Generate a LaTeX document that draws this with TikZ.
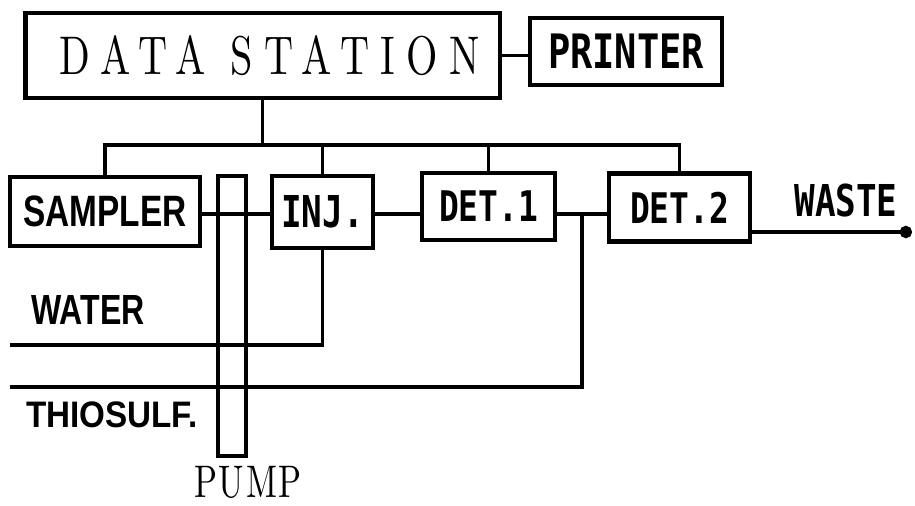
\documentclass[tikz,border=0pt]{standalone}
\usepackage{fontspec}
\usepackage{tikz}
\usetikzlibrary{arrows.meta, positioning, calc}
\newfontfamily\plotfont[FakeStretch=0.78]{DejaVu Sans Mono}
\newfontfamily\heavyfont[FakeStretch=0.76]{Liberation Sans}
\newfontfamily\thiofont[FakeStretch=0.9]{Liberation Sans}
\newfontfamily\outlinefont[Extension=.otf, UprightFont=*-regular, FakeStretch=0.74, LetterSpace=21]{lmroman10}
\newfontfamily\pumpfont[Extension=.otf, UprightFont=*-regular, FakeStretch=0.74, LetterSpace=4]{lmroman10}

\tikzset{
  box/.style={draw, line width=2.3pt, inner sep=0pt, fill=white},
  pipe/.style={line width=2pt},
  plotlabel/.style={font=\plotfont\bfseries\fontsize{#1}{#1}\selectfont},
  heavylabel/.style={font=\heavyfont\bfseries\fontsize{#1}{#1}\selectfont},
}

\begin{document}
\begin{tikzpicture}[x=0.02cm, y=-0.02cm]
  \useasboundingbox (0,0) rectangle (915,505);

  % Pump tube, the lines run across it
  \node[draw, line width=2.3pt, inner sep=0pt, minimum width=0.56cm, minimum height=5.6cm] (pump) at (232,316) {};
  \node[font=\pumpfont\fontsize{26}{26}\selectfont, anchor=north, inner sep=0pt] (pumplbl) at (248,466) {PUMP};

  % Data station and printer
  \node[box, line width=2.8pt, minimum width=9.5cm, minimum height=1.7cm,
        font=\outlinefont\fontsize{31}{31}\selectfont] (ds) at (262.5,55.5) {\hspace*{8pt}DATA STATION};
  \node[box, plotlabel=27, minimum width=3.84cm, minimum height=1.34cm] (prn) at (626,51.5) {PRINTER};

  % Flow line boxes
  \node[box, heavylabel=25, minimum width=3.8cm, minimum height=1.38cm] (smp) at (105,211.5) {SAMPLER};
  \node[box, plotlabel=25, minimum width=2.02cm, minimum height=1.44cm] (inj) at (322.5,212) {INJ.};
  \node[box, plotlabel=24, minimum width=2.66cm, minimum height=1.34cm] (det1) at (488.5,206.5) {DET.1};
  \node[box, plotlabel=24, minimum width=2.82cm, minimum height=1.36cm] (det2) at (679.5,207.5) {DET.2};

  % Reagents and waste
  \node[heavylabel=24] (water) at (88,310) {WATER};
  \node[font=\thiofont\bfseries\fontsize{21}{21}\selectfont] (thio) at (112,415) {THIOSULF.};
  \node[plotlabel=25] (waste) at (846,201) {WASTE};

  \coordinate (bus) at (0,145);
  \coordinate (flow) at (0,214);
  \coordinate (watL) at (10,345);
  \coordinate (thioL) at (10,387);
  \coordinate (thioJ) at (582,214);
  \coordinate (wasteR) at (912,232);

  % Signal lines
  \draw[pipe] (ds.east) -- (ds.east -| prn.west);
  \draw[pipe] (ds.south) -- (ds.south |- bus);
  \draw[pipe] (smp.north) -- (smp.north |- bus) -| (det2.north);
  \foreach \n in {inj, det1}
    \draw[pipe] (\n.north |- bus) -- (\n.north);

  % Tubing
  \draw[pipe] (smp.east |- flow) -- (inj.west |- flow);
  \draw[pipe] (inj.east |- flow) -- (det1.west |- flow);
  \draw[pipe] (det1.east |- flow) -- (det2.west |- flow);
  \draw[pipe] (watL) -| (inj.south);
  \draw[pipe] (thioL) -| (thioJ);
  \draw[pipe, -{Circle[length=7pt]}] (det2.east |- wasteR) -- (wasteR);
\end{tikzpicture}
\end{document}
